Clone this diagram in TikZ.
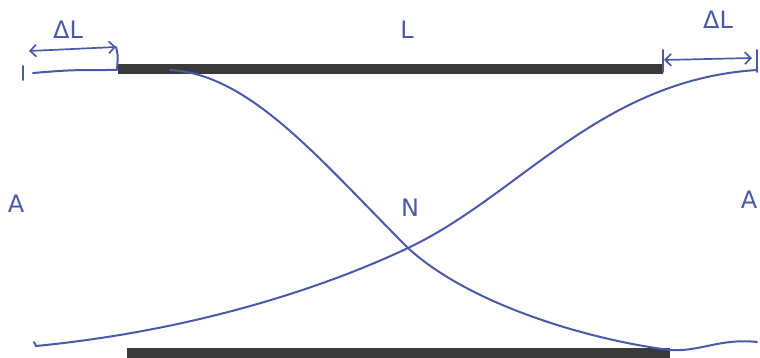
\documentclass[tikz,border=0pt]{standalone}
\usepackage{fontspec}
\setmainfont{DejaVu Sans}
\usetikzlibrary{arrows.meta}
\definecolor{pen}{HTML}{4A5AA8}
\definecolor{barc}{HTML}{3A3A3A}
\tikzset{
  ink/.style={draw=pen, line width=2pt, line cap=round},
  bar/.style={draw=barc, line width=9.5pt},
  lbl/.style={text=pen, font=\fontsize{24}{24}\selectfont, inner sep=0pt},
  dim/.style={ink, line width=1.7pt, {Straight Barb[length=6pt,width=12pt]}-{Straight Barb[length=6pt,width=12pt]}}
}
\begin{document}
\begin{tikzpicture}[x=1pt,y=-1pt]
\useasboundingbox (0,0) rectangle (760,358);
% bars
\coordinate (tl) at (118,69);
\coordinate (tr) at (663,69);
\coordinate (bl) at (127,353);
\coordinate (br) at (670,353);
\draw[bar] (tl) -- (tr);
\draw[bar] (bl) -- (br);
% left dimension
\coordinate (lt1) at (23,66);
\coordinate (lt2) at (23,80);
\coordinate (ls) at (33,73);
\coordinate (le) at (117,70);
\draw[ink] (lt1) -- (lt2);
\draw[ink] (ls) .. controls (70,70) .. (le);
\coordinate (la) at (29,51);
\coordinate (lb) at (116,47);
\draw[dim] (la) -- (lb);
\draw[ink] (lb) .. controls (118,55) .. (le);
% right dimension
\coordinate (rt1) at (663,50);
\coordinate (rt2) at (663,72);
\draw[ink] (rt1) -- (rt2);
\coordinate (ra) at (664,60);
\coordinate (rb) at (752,58);
\draw[dim] (ra) -- (rb);
\coordinate (rt3) at (757,50);
\coordinate (rt4) at (757,72);
\draw[ink] (rt3) -- (rt4);
% labels
\node[lbl] (dl1) at (68,30) {ΔL};
\node[lbl] (dl2) at (718,20) {ΔL};
\node[lbl] (Ltop) at (407,30) {L};
\node[lbl] (A1) at (16,204) {A};
\node[lbl] (A2) at (749,200) {A};
\node[lbl] (N) at (410,208) {N};
% curves
\coordinate (c1s) at (170,70);
\coordinate (x) at (408,248);
\coordinate (c1e) at (670,350);
\coordinate (c1f) at (757,342);
\draw[ink] (c1s) .. controls (250,74) and (320,160) .. (x)
  .. controls (470,305) and (590,340) .. (c1e)
  .. controls (700,352) and (720,338) .. (c1f);
\coordinate (c2s) at (36,346);
\coordinate (c2e) at (757,70);
\draw[ink] (34,342) -- (c2s) .. controls (200,330) and (330,285) .. (x)
  .. controls (520,195) and (600,80) .. (c2e);
\end{tikzpicture}
\end{document}
